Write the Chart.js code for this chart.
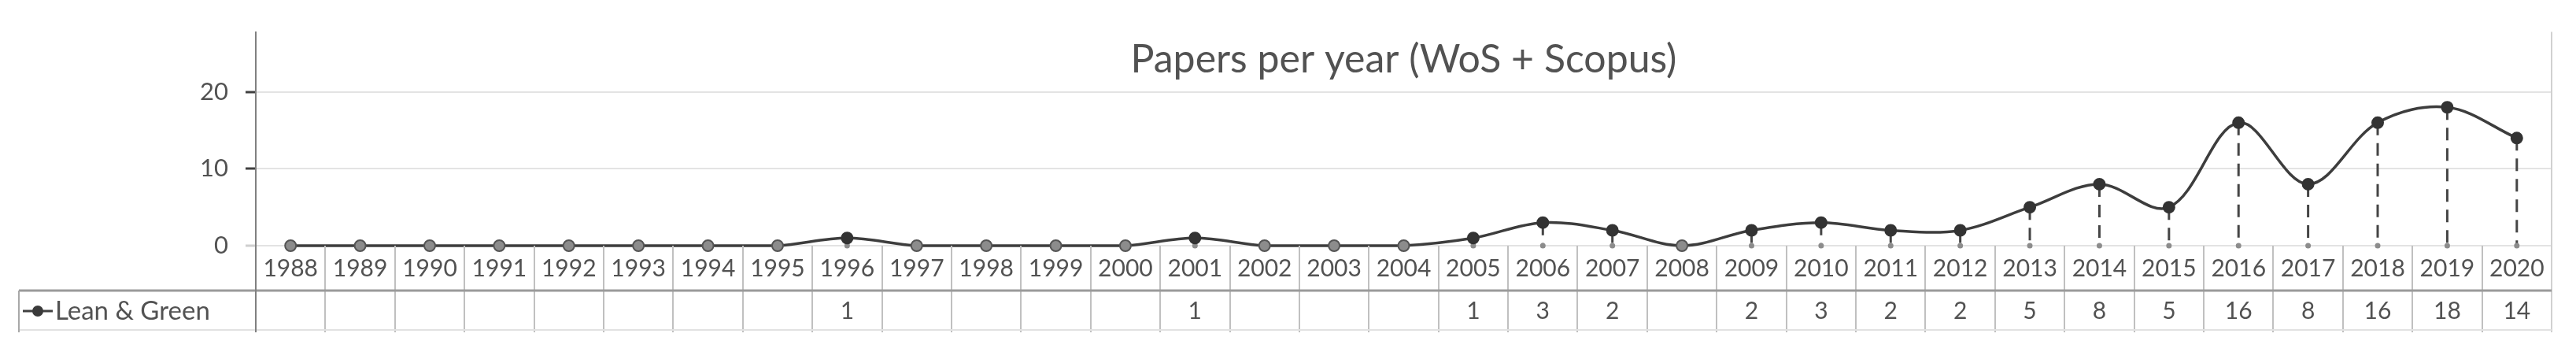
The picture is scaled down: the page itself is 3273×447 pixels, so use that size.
<!DOCTYPE html>
<html><head><meta charset="utf-8">
<script src="https://cdn.jsdelivr.net/npm/chart.js@4.4.1/dist/chart.umd.min.js"></script>
<style>html,body{margin:0;padding:0;background:#fff;}#wrap{width:3273px;height:447px;}</style>
</head><body><div id="wrap"><canvas id="c" width="3273" height="447"></canvas></div>
<script>
const years = ['1988','1989','1990','1991','1992','1993','1994','1995','1996','1997','1998','1999','2000','2001','2002','2003','2004','2005','2006','2007','2008','2009','2010','2011','2012','2013','2014','2015','2016','2017','2018','2019','2020'];
const papers = [0,0,0,0,0,0,0,0,1,0,0,0,0,1,0,0,0,1,3,2,0,2,3,2,2,5,8,5,16,8,16,18,14];
const seriesName = 'Lean & Green';
const chartTitle = 'Papers per year (WoS + Scopus)';
const yTickValues = [0, 10, 20];

const TEXT = '#525252';
const FONT = 'Lato';

const tablePlugin = {
  id: 'tablePlugin',
  beforeDatasetsDraw(chart) {
    const {ctx, scales: {x, y}} = chart;
    const y0 = y.getPixelForValue(0);
    ctx.save();
    ctx.strokeStyle = '#454545';
    ctx.lineWidth = 3;
    ctx.setLineDash([16, 10]);
    papers.forEach((v, i) => {
      if (!v) return;
      const px = x.getPixelForValue(i), py = y.getPixelForValue(v);
      ctx.beginPath(); ctx.moveTo(px, py); ctx.lineTo(px, y0); ctx.stroke();
    });
    ctx.setLineDash([]);
    ctx.fillStyle = '#8c8c8c';
    papers.forEach((v, i) => {
      if (!v) return;
      ctx.beginPath(); ctx.arc(x.getPixelForValue(i), y0, 3.5, 0, Math.PI * 2); ctx.fill();
    });
    ctx.restore();
  },
  afterDraw(chart) {
    const {ctx, chartArea, scales: {x}} = chart;
    const y0 = chartArea.bottom;
    const rowTop = y0 + 57;
    const rowBottom = rowTop + 50;
    const lineBottom = rowTop + 53;
    const tableLeft = 24;
    const half = (x.getPixelForValue(1) - x.getPixelForValue(0)) / 2;
    ctx.save();
    ctx.strokeStyle = '#c0c0c0';
    ctx.lineWidth = 2;
    for (let i = 0; i < years.length - 1; i++) {
      const bx = Math.round(x.getPixelForValue(i) + half);
      ctx.beginPath(); ctx.moveTo(bx, y0); ctx.lineTo(bx, lineBottom); ctx.stroke();
    }
    ctx.strokeStyle = '#d0d0d0';
    ctx.beginPath(); ctx.moveTo(chartArea.right, chartArea.top); ctx.lineTo(chartArea.right, lineBottom); ctx.stroke();
    ctx.strokeStyle = '#e2e2e2';
    ctx.beginPath(); ctx.moveTo(tableLeft, rowBottom); ctx.lineTo(chartArea.right, rowBottom); ctx.stroke();
    ctx.strokeStyle = '#9a9a9a';
    ctx.lineWidth = 3;
    ctx.beginPath(); ctx.moveTo(tableLeft, rowTop); ctx.lineTo(chartArea.right, rowTop); ctx.stroke();
    ctx.lineWidth = 2;
    ctx.strokeStyle = '#a8a8a8';
    ctx.beginPath(); ctx.moveTo(tableLeft, rowTop); ctx.lineTo(tableLeft, lineBottom); ctx.stroke();
    ctx.strokeStyle = '#808080';
    ctx.beginPath(); ctx.moveTo(chartArea.left, y0); ctx.lineTo(chartArea.left, lineBottom); ctx.stroke();
    const rowMid = rowTop + 26;
    ctx.fillStyle = TEXT;
    ctx.font = '30px ' + FONT;
    ctx.textAlign = 'center';
    ctx.textBaseline = 'middle';
    papers.forEach((v, i) => {
      if (!v) return;
      ctx.fillText(String(v), x.getPixelForValue(i), rowMid);
    });
    ctx.strokeStyle = '#404040';
    ctx.lineWidth = 3;
    ctx.beginPath(); ctx.moveTo(29, rowMid); ctx.lineTo(67, rowMid); ctx.stroke();
    ctx.fillStyle = '#3a3a3a';
    ctx.beginPath(); ctx.arc(48, rowMid, 7, 0, Math.PI * 2); ctx.fill();
    ctx.fillStyle = TEXT;
    ctx.textAlign = 'left';
    ctx.font = '33px ' + FONT;
    ctx.fillText(seriesName, 70, rowMid);
    ctx.restore();
  }
};

new Chart(document.getElementById('c'), {
  type: 'line',
  data: {
    labels: years,
    datasets: [{
      label: seriesName,
      data: papers,
      borderColor: '#3d3d3d',
      borderWidth: 3.5,
      tension: 0.35,
      clip: false,
      pointRadius: 7,
      pointBorderWidth: 2,
      pointBackgroundColor: ctx => ctx.raw === 0 ? '#8c8c8c' : '#333333',
      pointBorderColor: ctx => ctx.raw === 0 ? '#555555' : '#333333'
    }]
  },
  options: {
    responsive: false,
    devicePixelRatio: 1,
    animation: false,
    layout: {padding: {left: 0, right: 31, top: 0, bottom: 0}},
    plugins: {
      legend: {display: false},
      tooltip: {enabled: false},
      title: {
        display: true,
        text: chartTitle,
        color: TEXT,
        fullSize: false,
        font: {family: FONT, size: 50, weight: 'normal'},
        padding: {top: 40, bottom: -65}
      }
    },
    scales: {
      x: {
        type: 'category',
        offset: true,
        grid: {display: false, drawTicks: false},
        border: {display: false},
        ticks: {color: TEXT, font: {family: FONT, size: 30}, padding: 11, maxRotation: 0, autoSkip: false},
        afterFit: s => { s.height = 135; }
      },
      y: {
        min: 0,
        max: 27.8,
        afterBuildTicks: s => { s.ticks = yTickValues.map(v => ({value: v})); },
        ticks: {color: TEXT, font: {family: FONT, size: 31}, padding: 22},
        grid: {color: '#e3e3e3', lineWidth: 2, tickLength: 13, tickWidth: 3,
               tickColor: ctx => (ctx.tick && ctx.tick.value === 0) ? '#cfcfcf' : '#404040'},
        border: {color: '#808080', width: 2},
        afterFit: s => { s.width = 325; }
      }
    }
  },
  plugins: [tablePlugin]
});
</script>
</body></html>
